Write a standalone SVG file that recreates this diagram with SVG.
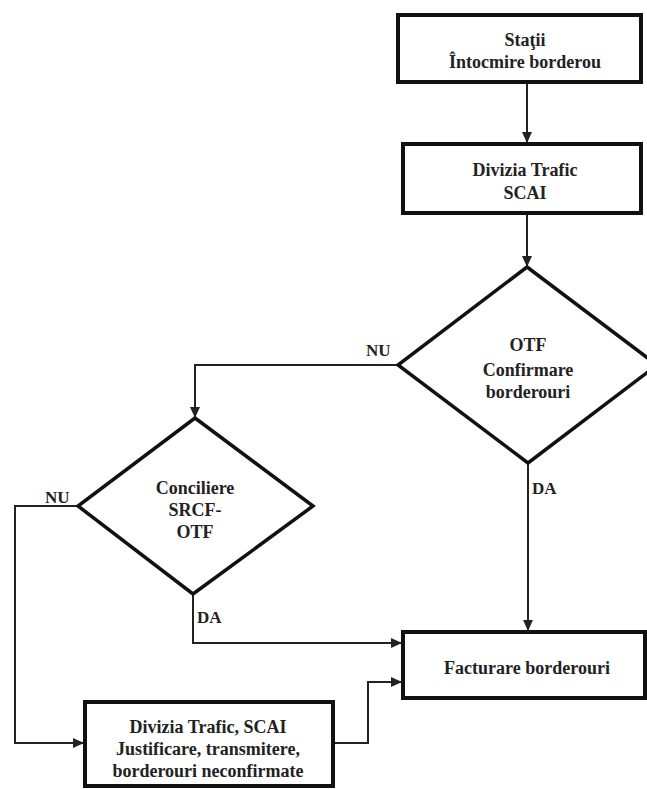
<svg xmlns="http://www.w3.org/2000/svg" width="647" height="789" viewBox="0 0 647 789" font-family="'Liberation Serif', 'DejaVu Serif', serif" font-weight="bold" font-size="18">
<style>
.box{fill:#fff;stroke:#111;stroke-width:4}
.dia{fill:#fff;stroke:#111;stroke-width:3.5}
.c{fill:none;stroke:#222;stroke-width:2}
.t{font-family:'Liberation Serif','DejaVu Serif',serif;font-weight:bold;font-size:18px;fill:#222;text-anchor:middle}
.lbl{font-family:'Liberation Serif','DejaVu Serif',serif;font-weight:bold;font-size:17px;fill:#222;text-anchor:start}
</style>
<defs>
<marker id="ah" markerUnits="userSpaceOnUse" markerWidth="11" markerHeight="10" refX="10" refY="5" orient="auto">
<path d="M0,0 L11,5 L0,10 z" fill="#222"/>
</marker>
</defs>
<rect width="647" height="789" fill="#fff"/>
<g id="connectors">
<path class="c" d="M527,82 V142" marker-end="url(#ah)"/>
<path class="c" d="M527,213 V266" marker-end="url(#ah)"/>
<path class="c" d="M398,365 H195 V417" marker-end="url(#ah)"/>
<path class="c" d="M528,463 V630" marker-end="url(#ah)"/>
<path class="c" d="M78,506 H15 V743 H83" marker-end="url(#ah)"/>
<path class="c" d="M193,594 V643 H401" marker-end="url(#ah)"/>
<path class="c" d="M333,743 H368 V682 H401" marker-end="url(#ah)"/>
<text class="lbl" x="366" y="356">NU</text>
<text class="lbl" x="45" y="503">NU</text>
<text class="lbl" x="532" y="494">DA</text>
<text class="lbl" x="197" y="623">DA</text>
</g>
<g id="statii">
<rect class="box" x="398" y="15" width="243" height="67"/>
<text class="t" x="525" y="46">Staţii</text>
<text class="t" x="525" y="68">Întocmire borderou</text>
</g>
<g id="divizia">
<rect class="box" x="403" y="144" width="238" height="69"/>
<text class="t" x="525" y="176">Divizia Trafic</text>
<text class="t" x="525" y="199">SCAI</text>
</g>
<g id="otf">
<polygon class="dia" points="527,267 657,365 528,463 398,365"/>
<text class="t" x="528" y="351">OTF</text>
<text class="t" x="528" y="376">Confirmare</text>
<text class="t" x="528" y="398">borderouri</text>
</g>
<g id="conciliere">
<polygon class="dia" points="195,418 313,506 193,594 78,506"/>
<text class="t" x="195" y="494">Conciliere</text>
<text class="t" x="195" y="516">SRCF-</text>
<text class="t" x="195" y="538">OTF</text>
</g>
<g id="facturare">
<rect class="box" x="403" y="632" width="242" height="66"/>
<text class="t" x="527" y="674">Facturare borderouri</text>
</g>
<g id="justificare">
<rect class="box" x="85" y="702" width="248" height="84"/>
<text class="t" x="208" y="733">Divizia Trafic,  SCAI</text>
<text class="t" x="208" y="755">Justificare, transmitere,</text>
<text class="t" x="208" y="777">borderouri neconfirmate</text>
</g>
</svg>
